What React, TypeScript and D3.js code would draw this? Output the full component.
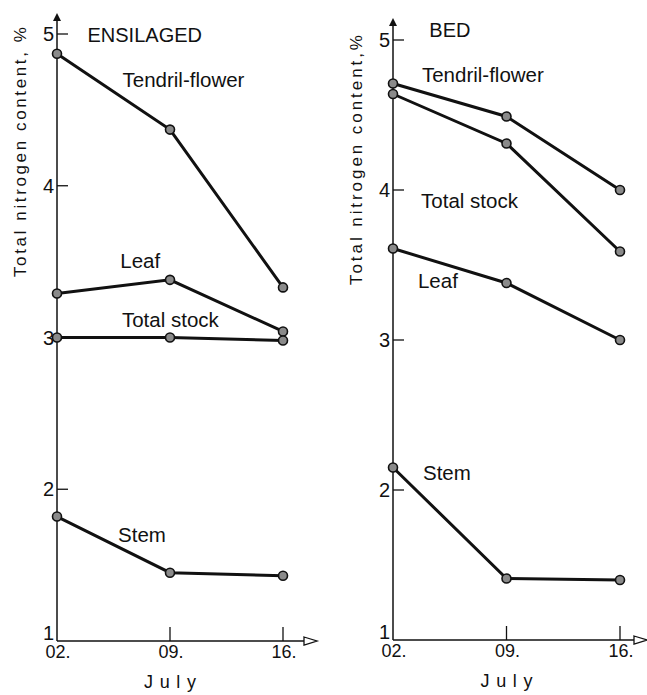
import * as d3 from 'd3'

// dates on the x axis (July)
const dates = ['02.', '09.', '16.']
const yTicks = [1, 2, 3, 4, 5]

// ENSILAGED panel, total nitrogen %
const ensTendril = [4.87, 4.37, 3.33]
const ensLeaf = [3.29, 3.38, 3.04]
const ensTotal = [3.0, 3.0, 2.98]
const ensStem = [1.82, 1.45, 1.43]

// BED panel
const bedTendril = [4.71, 4.49, 4.0]
const bedTotal = [4.64, 4.31, 3.59]
const bedLeaf = [3.61, 3.38, 3.0]
const bedStem = [2.15, 1.41, 1.4]

const FONT = '"Liberation Sans", Arial, sans-serif'

const panels = [
  {
    title: 'ENSILAGED',
    titlePos: [0.27, 4.95],
    yLabel: 'Total nitrogen content, %',
    yLabelMid: 152,
    x0: 57,
    x1: 283,
    yTop: 34,
    yBot: 641,
    arrowTop: 13,
    axisEnd: 304,
    series: [
      { name: 'Tendril-flower', values: ensTendril, pos: [0.58, 4.65] },
      { name: 'Leaf', values: ensLeaf, pos: [0.56, 3.46] },
      { name: 'Total stock', values: ensTotal, pos: [0.575, 3.07] },
      { name: 'Stem', values: ensStem, pos: [0.54, 1.65] },
    ],
  },
  {
    title: 'BED',
    titlePos: [0.32, 5.02],
    yLabel: 'Total nitrogen content,%',
    yLabelMid: 160,
    x0: 393,
    x1: 620,
    yTop: 40,
    yBot: 640,
    arrowTop: 18,
    axisEnd: 634,
    series: [
      { name: 'Tendril-flower', values: bedTendril, pos: [0.255, 4.72] },
      { name: 'Total stock', values: bedTotal, pos: [0.247, 3.88] },
      { name: 'Leaf', values: bedLeaf, pos: [0.22, 3.35] },
      { name: 'Stem', values: bedStem, pos: [0.264, 2.07] },
    ],
  },
]

const Panel = ({ p }) => {
  const x = d3.scaleLinear().domain([0, dates.length - 1]).range([p.x0, p.x1])
  const y = d3.scaleLinear().domain([1, 5]).range([p.yBot, p.yTop])
  const line = d3
    .line<number>()
    .x((d, i) => x(i))
    .y((d) => y(d))
  const base = y(1)

  return (
    <g fontFamily={FONT} fill="#111">
      {/* y axis with filled arrow */}
      <line x1={p.x0} x2={p.x0} y1={base} y2={p.arrowTop + 5} stroke="#111" strokeWidth={1.5} />
      <path
        d={`M${p.x0},${p.arrowTop} L${p.x0 - 4},${p.arrowTop + 8} L${p.x0 + 4},${p.arrowTop + 8} Z`}
        fill="#111"
      />
      {/* x axis with open arrow */}
      <line x1={p.x0} x2={p.axisEnd} y1={base} y2={base} stroke="#111" strokeWidth={1.5} />
      <path
        d={`M${p.axisEnd},${base - 4} L${p.axisEnd + 13},${base} L${p.axisEnd},${base + 4} Z`}
        fill="#fff"
        stroke="#111"
        strokeWidth={1.3}
      />

      {yTicks.map((t) => (
        <g key={t}>
          {t > 1 && <line x1={p.x0} x2={p.x0 + 11} y1={y(t)} y2={y(t)} stroke="#111" strokeWidth={1.3} />}
          <text
            x={p.x0 - 3}
            y={t === 1 ? y(t) - 1 : y(t) + 7}
            textAnchor="end"
            fontSize={20}
          >
            {t}
          </text>
        </g>
      ))}

      {dates.map((d, i) => (
        <g key={d}>
          {i > 0 && <line x1={x(i)} x2={x(i)} y1={base} y2={base - 14} stroke="#111" strokeWidth={1.3} />}
          <text x={x(i) + 1} y={base + 17} textAnchor="middle" fontSize={18}>
            {d}
          </text>
        </g>
      ))}

      <text
        x={x(1)}
        y={base + 47}
        textAnchor="middle"
        fontSize={18}
        textLength={52}
        lengthAdjust="spacing"
      >
        July
      </text>

      <text
        transform={`translate(${p.x0 - 31},${p.yLabelMid}) rotate(-90)`}
        textAnchor="middle"
        fontSize={17}
        textLength={250}
        lengthAdjust="spacing"
      >
        {p.yLabel}
      </text>

      <text x={x(p.titlePos[0])} y={y(p.titlePos[1])} fontSize={20}>
        {p.title}
      </text>

      {p.series.map((s) => (
        <g key={s.name}>
          <path d={line(s.values)} fill="none" stroke="#111" strokeWidth={3} />
          {s.values.map((v, i) => (
            <circle key={i} cx={x(i)} cy={y(v)} r={4.5} fill="#8a8a8a" stroke="#111" strokeWidth={1.6} />
          ))}
          <text x={x(s.pos[0])} y={y(s.pos[1])} fontSize={20.5}>
            {s.name}
          </text>
        </g>
      ))}
    </g>
  )
}

const App = () => {
  return (
    <svg
      width={647}
      height={695}
      style={{ position: 'absolute', left: 0, top: 0, background: '#fff' }}
    >
      <rect width={647} height={695} fill="#fff" />
      {panels.map((p) => (
        <Panel key={p.title} p={p} />
      ))}
    </svg>
  )
}

export default App
